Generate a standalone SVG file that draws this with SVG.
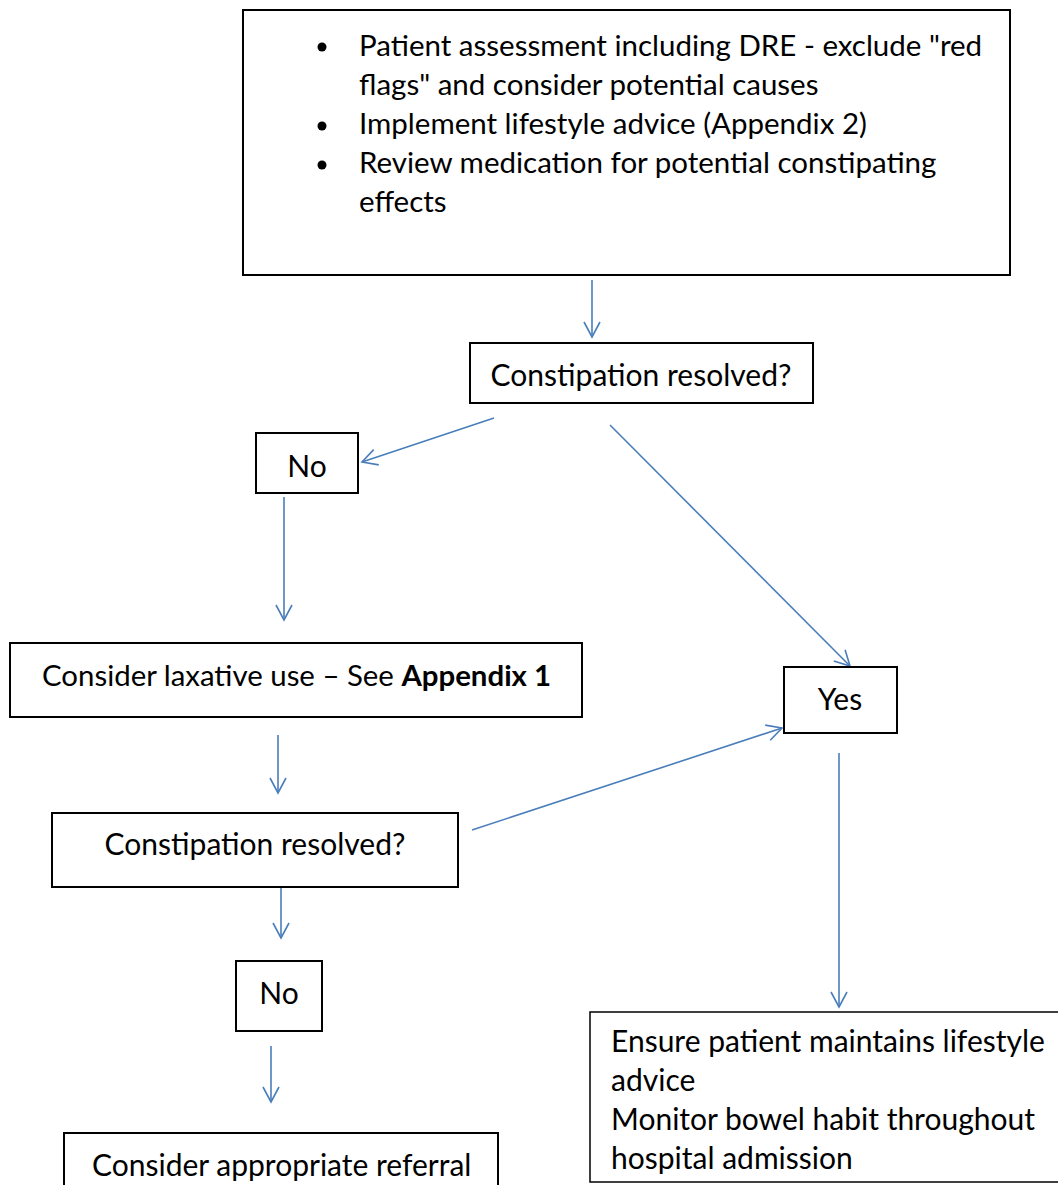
<svg xmlns="http://www.w3.org/2000/svg" width="1058" height="1185" viewBox="0 0 1058 1185">
<defs>
<marker id="arr" markerUnits="userSpaceOnUse" markerWidth="20" markerHeight="20" viewBox="0 0 20 20" refX="17" refY="10" orient="auto">
<path d="M2,2 L17,10 L2,18" fill="none" stroke="#4a7ebb" stroke-width="1.6"/>
</marker>
</defs>
<style>
.box{fill:#fff;stroke:#000;stroke-width:2}
.t{font-family:Lato,"Liberation Sans",sans-serif;font-size:30px;fill:#000}
.s{font-size:29.5px}
.c{text-anchor:middle}
.con{stroke:#4a7ebb;stroke-width:1.6;fill:none;marker-end:url(#arr)}
</style>
<rect width="1058" height="1185" fill="#fff"/>
<g id="connectors">
<line class="con" x1="592" y1="280" x2="592" y2="337"/>
<line class="con" x1="494" y1="418" x2="362" y2="462"/>
<line class="con" x1="610" y1="425" x2="850" y2="666"/>
<line class="con" x1="284" y1="497" x2="284" y2="620"/>
<line class="con" x1="278" y1="735" x2="278" y2="793"/>
<line class="con" x1="472" y1="830" x2="782" y2="728"/>
<line class="con" x1="281" y1="888" x2="281" y2="938"/>
<line class="con" x1="271" y1="1046" x2="271" y2="1102"/>
<line class="con" x1="839" y1="753" x2="839" y2="1007"/>
</g>
<g id="assess">
<rect class="box" x="243" y="10" width="767" height="265"/>
<circle cx="322" cy="47" r="4.5"/>
<circle cx="322" cy="126" r="4.5"/>
<circle cx="322" cy="165" r="4.5"/>
<text class="t s" x="359" y="56">Patient assessment including DRE - exclude "red</text>
<text class="t s" x="359" y="95">flags" and consider potential causes</text>
<text class="t s" x="359" y="134">Implement lifestyle advice (Appendix 2)</text>
<text class="t s" x="359" y="173">Review medication for potential constipating</text>
<text class="t s" x="359" y="212">effects</text>
</g>
<g id="resolved1">
<rect class="box" x="470" y="343" width="343" height="60"/>
<text class="t c" x="641" y="386">Constipation resolved?</text>
</g>
<g id="no1">
<rect class="box" x="256" y="433" width="102" height="60"/>
<text class="t c" x="307" y="477">No</text>
</g>
<g id="laxative">
<rect class="box" x="10" y="643" width="572" height="74"/>
<text class="t" x="42" y="686" style="font-size:29.4px">Consider laxative use – See <tspan font-weight="bold">Appendix 1</tspan></text>
</g>
<g id="resolved2">
<rect class="box" x="52" y="813" width="406" height="74"/>
<text class="t c" x="255" y="855">Constipation resolved?</text>
</g>
<g id="no2">
<rect class="box" x="236" y="961" width="86" height="70"/>
<text class="t c" x="279" y="1004">No</text>
</g>
<g id="referral">
<rect class="box" x="64" y="1133" width="434" height="70"/>
<text class="t" x="92" y="1176">Consider appropriate referral</text>
</g>
<g id="yes">
<rect class="box" x="784" y="667" width="113" height="66"/>
<text class="t c" x="840" y="710">Yes</text>
</g>
<g id="maintain">
<rect x="590" y="1012" width="480" height="170" fill="#fff" stroke="#000" stroke-width="1.5"/>
<text class="t" x="611" y="1052">Ensure patient maintains lifestyle</text>
<text class="t" x="611" y="1091">advice</text>
<text class="t" x="611" y="1130">Monitor bowel habit throughout</text>
<text class="t" x="611" y="1169">hospital admission</text>
</g>
</svg>
